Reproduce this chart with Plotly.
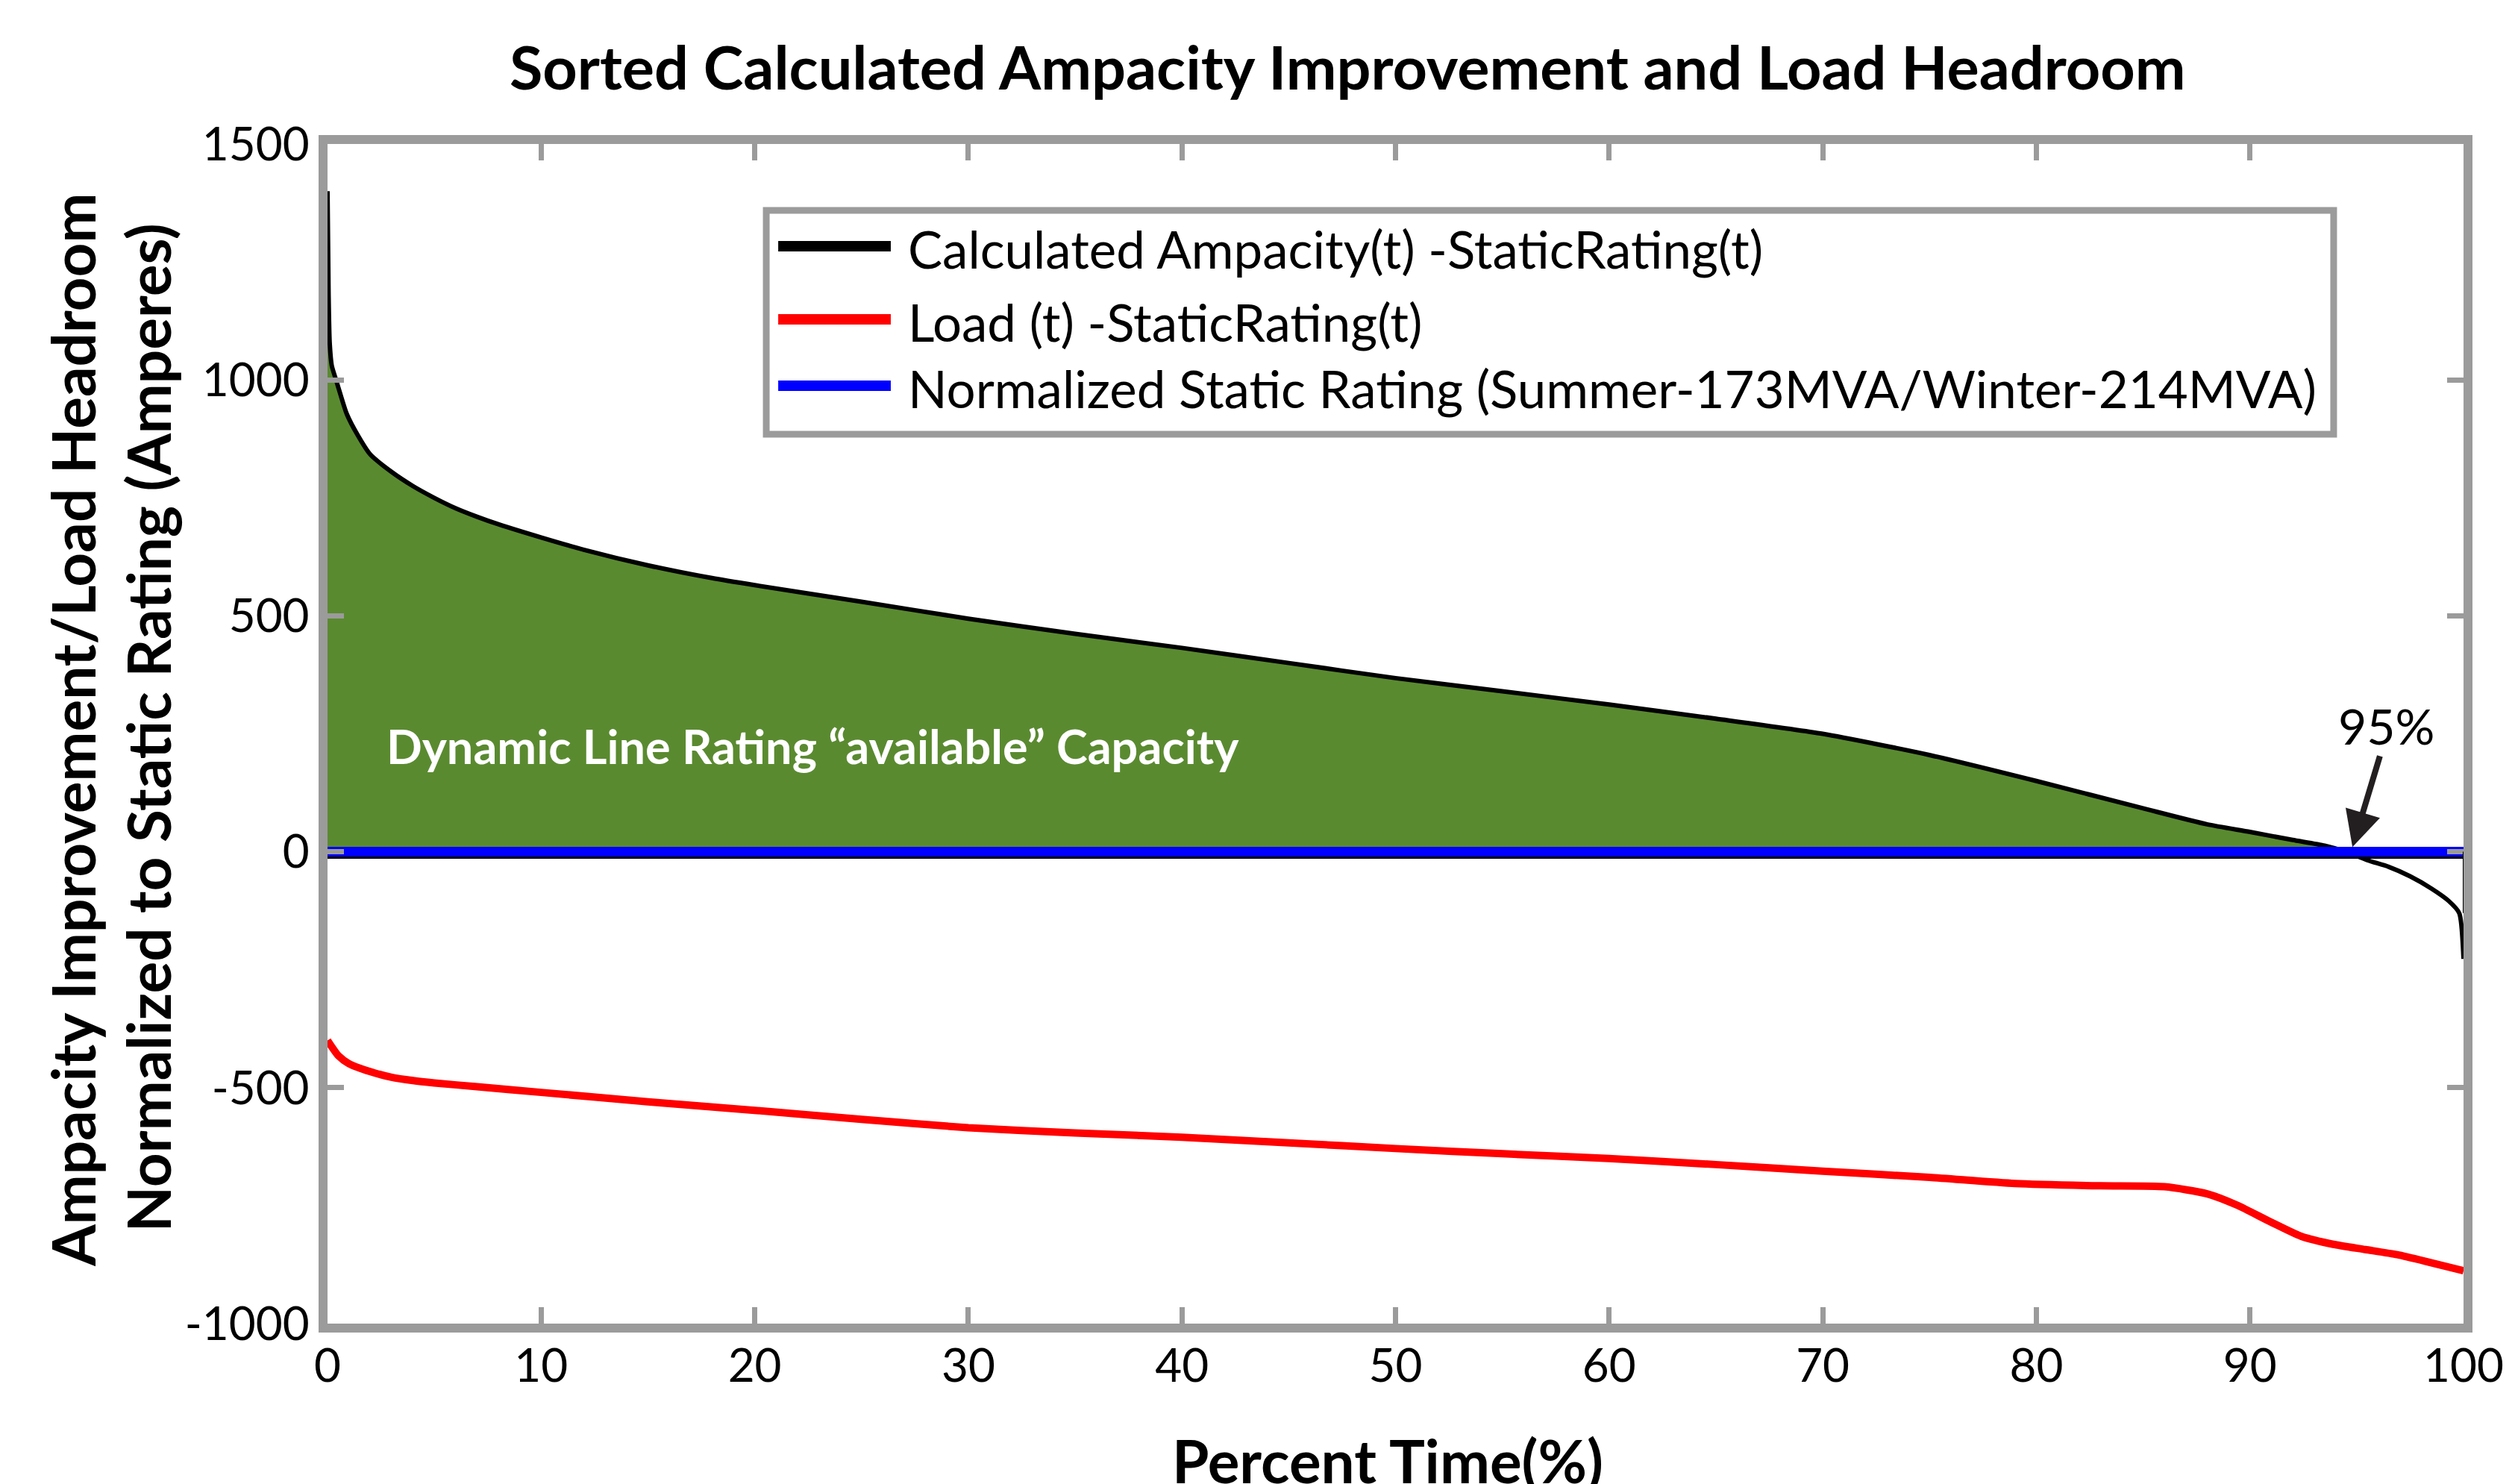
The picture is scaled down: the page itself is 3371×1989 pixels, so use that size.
import plotly.graph_objects as go

# ---- data -------------------------------------------------------------
# Sorted (descending) calculated ampacity minus static rating, in amperes
pct_ampacity = [0, 0.05, 0.1, 0.2, 0.4, 0.6, 0.9, 1.4, 2, 3, 4, 5, 6, 7, 8,
                10, 12, 15, 18, 20, 25, 30, 35, 40, 45, 50, 55, 60, 65, 70,
                75, 80, 85, 88, 90, 92, 93.5, 94.5, 95.5, 96.5, 97.5, 98.5,
                99.3, 99.8, 100]
ampacity_delta = [1400, 1180, 1080, 1030, 1000, 970, 928, 884, 842, 805, 775,
                  750, 728, 710, 694, 666, 640, 607, 580, 565, 530, 494, 462,
                  432, 400, 368, 340, 312, 282, 250, 205, 150, 92, 58, 42, 25,
                  13, 0, -18, -32, -52, -78, -104, -130, -227]

# Sorted load minus static rating, in amperes
pct_load = [0, 0.5, 1, 2, 3, 4, 5, 7, 10, 15, 20, 25, 30, 35, 40, 45, 50, 55,
            60, 65, 70, 75, 79, 83, 86, 88, 89.4, 90.9, 92.4, 93.9, 95.4,
            96.9, 98.4, 100]
load_delta = [-400, -432, -449, -466, -478, -485, -490, -498, -510, -530,
              -548, -567, -585, -596, -605, -617, -629, -640, -650, -663,
              -677, -690, -703, -708, -710, -725, -749, -783, -815, -832,
              -843, -854, -870, -888]

# Static rating normalised to zero
pct_static = [0, 100]
static_delta = [0, 0]

series_names = ["Calculated Ampacity(t) -StaticRating(t)",
                "Load (t) -StaticRating(t)",
                "Normalized Static Rating (Summer-173MVA/Winter-214MVA)"]
series_colors = ["#000000", "#ff0000", "#0000ff"]

x_ticks = [0, 10, 20, 30, 40, 50, 60, 70, 80, 90, 100]
x_tick_text = ["0", "10", "20", "30", "40", "50", "60", "70", "80", "90", "100"]
y_ticks = [-1000, -500, 0, 500, 1000, 1500]
y_tick_text = ["-1000", "-500", "0", "500", "1000", "1500"]

FONT = "Lato"
FRAME = "#9b9b9b"
GREEN = "#5a8a30"

fig = go.Figure()

# green "available capacity" area: the positive part of the ampacity curve
fig.add_trace(go.Scatter(
    x=pct_ampacity, y=[max(v, 0) for v in ampacity_delta],
    mode="lines", line=dict(width=0, color=GREEN, shape="spline", smoothing=0.6),
    fill="tozeroy", fillcolor=GREEN, showlegend=False, hoverinfo="skip"))

fig.add_trace(go.Scatter(
    x=pct_ampacity, y=ampacity_delta, mode="lines", name=series_names[0],
    line=dict(color=series_colors[0], width=6, shape="spline", smoothing=0.6),
    showlegend=False))

fig.add_trace(go.Scatter(
    x=pct_static, y=static_delta, mode="lines", name=series_names[2],
    line=dict(color=series_colors[2], width=13), showlegend=False))

fig.add_trace(go.Scatter(
    x=pct_load, y=load_delta, mode="lines", name=series_names[1],
    line=dict(color=series_colors[1], width=10, shape="spline", smoothing=0.6),
    showlegend=False))

axis_common = dict(
    showline=True, linecolor=FRAME, linewidth=12, mirror="ticks",
    ticks="inside", ticklen=22, tickwidth=7, tickcolor=FRAME,
    showgrid=False, zeroline=False,
    tickfont=dict(family=FONT, size=62, color="black"),
)
fig.update_xaxes(range=[0, 100], tickvals=x_ticks, ticktext=x_tick_text,
                 ticklabelstandoff=-8, **axis_common)
fig.update_yaxes(range=[-1000, 1500], tickvals=y_ticks, ticktext=y_tick_text,
                 **axis_common)

shapes = []
annotations = []

# thin black baseline under the blue static-rating line
shapes.append(dict(type="line", xref="x", yref="y", x0=0, x1=100,
                   ysizemode="pixel", yanchor=0, y0=-8, y1=-8,
                   line=dict(color="black", width=3)))
# closing edge of the area at the right end of the ampacity curve
shapes.append(dict(type="line", xref="x", yref="y",
                   x0=pct_ampacity[-1], x1=pct_ampacity[-1],
                   y0=0, y1=ampacity_delta[-2],
                   line=dict(color="black", width=2)))

# legend box drawn by hand so the sample lines can be long
shapes.append(dict(type="rect", xref="paper", yref="paper",
                   x0=0.2054, x1=0.9392, y0=0.7540, y1=0.9437,
                   line=dict(color=FRAME, width=9), fillcolor="white",
                   layer="above"))
legend_rows = [0.9133, 0.8513, 0.7951]
for name, color, yr in zip(series_names, series_colors, legend_rows):
    shapes.append(dict(type="line", xref="paper", yref="paper",
                       x0=0.2110, x1=0.2637, y0=yr, y1=yr,
                       line=dict(color=color, width=14), layer="above"))
    annotations.append(dict(xref="paper", yref="paper", x=0.2710, y=yr - 0.002,
                            xanchor="left", yanchor="middle", text=name,
                            showarrow=False,
                            font=dict(family=FONT, size=69, color="black")))

# title and axis titles
annotations.append(dict(xref="paper", yref="paper", x=0.4775, y=1.066,
                        xanchor="center", yanchor="middle", showarrow=False,
                        text="Sorted Calculated Ampacity Improvement and Load Headroom",
                        font=dict(family=FONT, size=81, color="black", weight=700)))
annotations.append(dict(xref="paper", yref="paper", x=0.4965, y=-0.116,
                        xanchor="center", yanchor="middle", showarrow=False,
                        text="Percent Time(%)",
                        font=dict(family=FONT, size=80, color="black", weight=700)))
annotations.append(dict(xref="paper", yref="paper", x=-0.1195, y=0.5035,
                        xanchor="center", yanchor="middle", showarrow=False,
                        textangle=-90,
                        text="Ampacity Improvement/Load Headroom",
                        font=dict(family=FONT, size=80, color="black", weight=700)))
annotations.append(dict(xref="paper", yref="paper", x=-0.0842, y=0.505,
                        xanchor="center", yanchor="middle", showarrow=False,
                        textangle=-90,
                        text="Normalized to Static Rating (Amperes)",
                        font=dict(family=FONT, size=80, color="black", weight=700)))

# in-plot labels
annotations.append(dict(xref="x", yref="y", x=2.7, y=224, xanchor="left",
                        yanchor="middle", showarrow=False,
                        text="Dynamic Line Rating \u201cavailable\u201d Capacity",
                        font=dict(family=FONT, size=63, color="white", weight=700)))
annotations.append(dict(xref="x", yref="y", x=96.4, y=268, xanchor="center",
                        yanchor="middle", showarrow=False, text="95%",
                        font=dict(family=FONT, size=66, color="black")))
annotations.append(dict(xref="x", yref="y", x=94.8, y=10, ax=96.1, ay=205,
                        axref="x", ayref="y", text="", showarrow=True,
                        arrowhead=2, arrowsize=1.2, arrowwidth=8,
                        arrowcolor="#231f20"))

fig.update_layout(
    width=3371, height=1989,
    margin=dict(l=439, r=69, t=193, b=215),
    paper_bgcolor="white", plot_bgcolor="white",
    showlegend=False,
    shapes=shapes, annotations=annotations,
    font=dict(family=FONT, color="black"),
)

fig.write_html("out.html")
